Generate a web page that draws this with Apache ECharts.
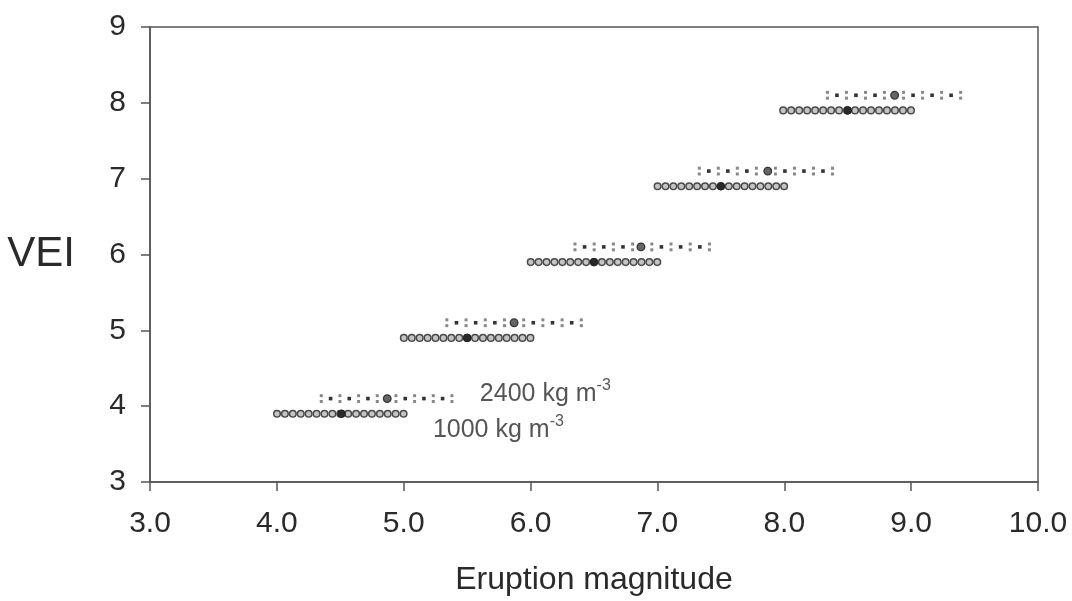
<!DOCTYPE html>
<html>
<head>
<meta charset="utf-8">
<script src="https://cdn.jsdelivr.net/npm/echarts@6/dist/echarts.min.js"></script>
<style>
  html, body { margin: 0; padding: 0; background: #fff; }
  #chart { width: 1072px; height: 601px; }
</style>
</head>
<body>
<div id="chart"></div>
<script>
// ---- Data ----
const veiLevels = [4, 5, 6, 7, 8];
// density 1000 kg m-3
const mag1000Low  = [3.97, 4.97, 5.97, 6.97, 7.96];
const mag1000High = [5.03, 6.03, 7.03, 8.03, 9.03];
const mag1000Mid  = [4.51, 5.50, 6.50, 7.50, 8.50];
// density 2400 kg m-3
const mag2400Low  = [4.35, 5.34, 6.35, 7.33, 8.34];
const mag2400High = [5.38, 6.40, 7.41, 8.38, 9.39];
const mag2400Mid  = [4.87, 5.87, 6.87, 7.87, 8.87];
const xTicks = [3, 4, 5, 6, 7, 8, 9, 10];
const yTicks = [3, 4, 5, 6, 7, 8, 9];
const label1000 = '1000 kg m';
const label2400 = '2400 kg m';
const supText = '-3';

const FONT = '"Liberation Sans", Arial, sans-serif';

function rows(low, high, mid, shift) {
  return veiLevels.map((v, i) => [low[i], high[i], mid[i], v + shift]);
}

function render1000(params, api) {
  const y = api.value(3);
  const p0 = api.coord([api.value(0), y]);
  const p1 = api.coord([api.value(1), y]);
  const pm = api.coord([api.value(2), y]);
  const children = [];
  const len = p1[0] - p0[0];
  const n = Math.max(1, Math.round(len / 7.8));
  const step = len / n;
  for (let k = 0; k < n; k++) {
    children.push({
      type: 'circle',
      shape: { cx: p0[0] + step * (k + 0.5), cy: p0[1], r: 3.3 },
      style: { fill: '#c4c4c4', stroke: '#4a4a4a', lineWidth: 1.5 }
    });
  }
  children.push({
    type: 'circle',
    shape: { cx: pm[0], cy: pm[1], r: 3.8 },
    style: { fill: '#2a2a2a', stroke: '#222', lineWidth: 1 }
  });
  return { type: 'group', children };
}

function render2400(params, api) {
  const y = api.value(3);
  const p0 = api.coord([api.value(0), y]);
  const p1 = api.coord([api.value(1), y]);
  const pm = api.coord([api.value(2), y]);
  const children = [];
  const len = p1[0] - p0[0];
  const n = Math.max(1, Math.round(len / 9.3));
  const step = len / n;
  for (let k = 0; k <= n; k++) {
    const cx = p0[0] + step * k;
    if (Math.abs(cx - pm[0]) < 4) continue;
    if (k % 2 === 0) {
      children.push({ type: 'rect', shape: { x: cx - 1.5, y: p0[1] - 4.4, width: 3, height: 3 }, style: { fill: '#888' } });
      children.push({ type: 'rect', shape: { x: cx - 1.5, y: p0[1] + 1.4, width: 3, height: 3 }, style: { fill: '#888' } });
    } else {
      children.push({ type: 'rect', shape: { x: cx - 1.8, y: p0[1] - 1.8, width: 3.6, height: 3.6 }, style: { fill: '#333' } });
    }
  }
  children.push({
    type: 'circle',
    shape: { cx: pm[0], cy: pm[1], r: 3.8 },
    style: { fill: '#666', stroke: '#333', lineWidth: 1.3 }
  });
  return { type: 'group', children };
}

const richLabel = {
  n: { fontSize: 25, fontFamily: FONT, color: '#2a2a2a', lineHeight: 29, verticalAlign: 'bottom' },
  s: { fontSize: 16, fontFamily: FONT, color: '#2a2a2a', lineHeight: 16, verticalAlign: 'top' }
};

const chart = echarts.init(document.getElementById('chart'), null, { renderer: 'canvas' });
chart.setOption({
  animation: false,
  backgroundColor: '#fff',
  grid: {
    left: 150, right: 34, top: 27, bottom: 119,
    show: true, borderColor: '#555', borderWidth: 1.5, backgroundColor: 'transparent'
  },
  xAxis: {
    type: 'value', min: xTicks[0], max: xTicks[xTicks.length - 1], interval: 1,
    name: 'Eruption magnitude', nameLocation: 'middle', nameGap: 82,
    nameTextStyle: { fontSize: 32, fontFamily: FONT, color: '#2a2a2a' },
    axisLine: { show: true, lineStyle: { color: '#555', width: 1.5 } },
    axisTick: { show: true, inside: false, length: 9, lineStyle: { color: '#555', width: 1.5 } },
    axisLabel: { fontSize: 30, fontFamily: FONT, color: '#2a2a2a', margin: 27, formatter: v => v.toFixed(1) },
    splitLine: { show: false }
  },
  yAxis: {
    type: 'value', min: yTicks[0], max: yTicks[yTicks.length - 1], interval: 1,
    name: 'VEI', nameLocation: 'middle', nameGap: 75, nameRotate: 0,
    nameTextStyle: { fontSize: 42, fontFamily: FONT, color: '#2a2a2a' },
    axisLine: { show: true, lineStyle: { color: '#555', width: 1.5 } },
    axisTick: { show: true, inside: false, length: 9, lineStyle: { color: '#555', width: 1.5 } },
    axisLabel: { fontSize: 30, fontFamily: FONT, color: '#2a2a2a', margin: 24 },
    splitLine: { show: false }
  },
  series: [
    {
      name: '1000 kg m-3', type: 'custom', renderItem: render1000,
      encode: { x: [0, 1, 2], y: 3 },
      data: rows(mag1000Low, mag1000High, mag1000Mid, -0.1), z: 3
    },
    {
      name: '2400 kg m-3', type: 'custom', renderItem: render2400,
      encode: { x: [0, 1, 2], y: 3 },
      data: rows(mag2400Low, mag2400High, mag2400Mid, 0.1), z: 3
    },
    {
      type: 'scatter', symbolSize: 0, silent: true, z: 4,
      data: [
        { value: [5.6, 4.19], label: { formatter: '{n|' + label2400 + '}{s|' + supText + '}' } },
        { value: [5.23, 3.71], label: { formatter: '{n|' + label1000 + '}{s|' + supText + '}' } }
      ],
      label: { show: true, position: 'right', distance: 0, rich: richLabel }
    }
  ]
});
</script>
</body>
</html>
